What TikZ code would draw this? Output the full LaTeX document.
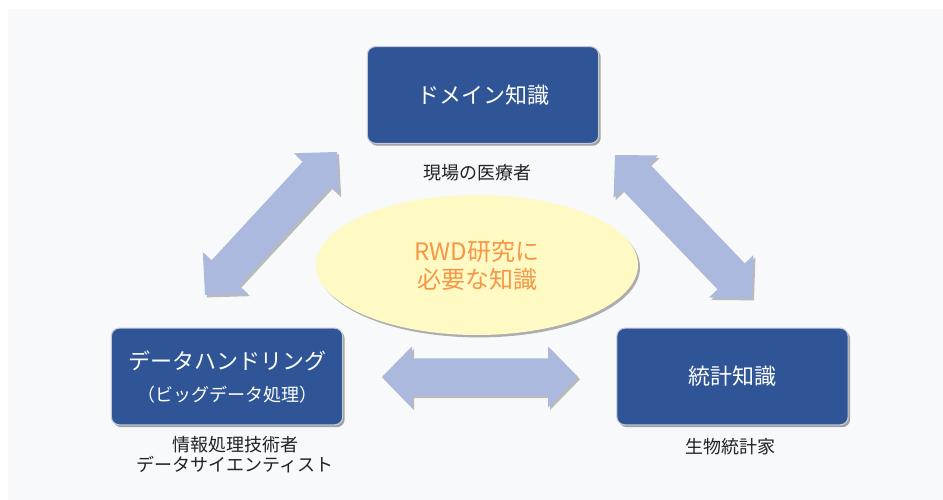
\documentclass[tikz,border=0pt]{standalone}
\usepackage{fontspec}
\setmainfont{Noto Sans CJK JP}
\usetikzlibrary{calc,shapes.geometric,shadows}
\definecolor{bgfill}{RGB}{248,249,251}
\definecolor{boxblue}{RGB}{47,85,151}
\definecolor{boxedge}{RGB}{196,203,216}
\definecolor{arrowblue}{RGB}{170,185,221}
\definecolor{ellfill}{RGB}{255,250,196}
\definecolor{ellorange}{RGB}{246,150,70}
\definecolor{labelgray}{RGB}{34,34,34}
\newcommand\dblarrowshape[2]{%
  \coordinate (#1h) at ($(#1)!22.5pt!(#2)$);
  \coordinate (#2h) at ($(#2)!22.5pt!(#1)$);
  \fill[arrowstyle] (#1) -- ($(#1h)!23pt!90:(#2)$) -- ($(#1h)!14pt!90:(#2)$)
    -- ($(#2h)!14pt!-90:(#1)$) -- ($(#2h)!23pt!-90:(#1)$) -- (#2)
    -- ($(#2h)!23pt!90:(#1)$) -- ($(#2h)!14pt!90:(#1)$)
    -- ($(#1h)!14pt!-90:(#2)$) -- ($(#1h)!23pt!-90:(#2)$) -- cycle;}
\tikzset{
  box/.style={rectangle, rounded corners=6pt, fill=boxblue, draw=boxedge, line width=0.8pt,
    minimum width=173.5pt, minimum height=72.5pt, text=white, align=center, inner sep=0pt,
    font=\fontsize{16.5pt}{24pt}\selectfont,
    drop shadow={shadow xshift=1.5pt, shadow yshift=-1.8pt, opacity=0.35, fill=black}},
  sublabel/.style={text=labelgray, align=center, inner sep=0pt, font=\fontsize{13.5pt}{15pt}\selectfont},
  arrowstyle/.style={fill=arrowblue, drop shadow={shadow xshift=1.5pt, shadow yshift=-1.8pt, opacity=0.25, fill=black}},
  centre/.style={ellipse, fill=ellfill, minimum width=241.5pt, minimum height=105pt, inner sep=0pt,
    text=ellorange, align=center, font=\fontsize{18pt}{21pt}\selectfont,
    drop shadow={shadow xshift=1.5pt, shadow yshift=-1.8pt, opacity=0.3, fill=black}}
}
\begin{document}
\begin{tikzpicture}[x=0.75pt, y=-0.75pt]
\useasboundingbox (0,0) rectangle (943,500);
\fill[bgfill] (8,9) rectangle (943,500);
% arrows
\coordinate (LA) at (205,295); \coordinate (LB) at (337,152);
\coordinate (RA) at (615,155); \coordinate (RB) at (752,298);
\coordinate (HA) at (382,377); \coordinate (HB) at (578,377);
\dblarrowshape{LA}{LB}
\dblarrowshape{RA}{RB}
\dblarrowshape{HA}{HB}
% centre
\node[centre] (core) at (477,265) {RWD研究に\\必要な知識};
% boxes
\node[box] (dom) at (483,95) {ドメイン知識};
\node[box] (dh) at (227,376.5) {データハンドリング\\{\fontsize{13.5pt}{16pt}\selectfont （ビッグデータ処理）}};
\node[box] (stat) at (732.5,376.5) {統計知識};
% labels
\node[sublabel] (domL) at (477,173) {現場の医療者};
\node[sublabel] (dhL) at (235,455) {情報処理技術者\\データサイエンティスト};
\node[sublabel] (statL) at (730,447) {生物統計家};
\end{tikzpicture}
\end{document}
